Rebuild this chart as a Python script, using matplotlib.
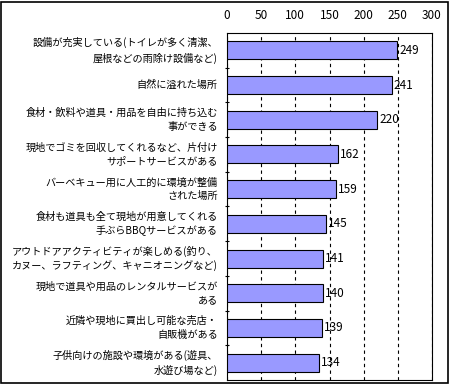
import matplotlib.pyplot as plt
from matplotlib.patches import Rectangle

plt.rcParams['font.family'] = ['Noto Sans CJK JP', 'DejaVu Sans']

labels = [
    "設備が充実している(トイレが多く清潔、\n屋根などの雨除け設備など)",
    "自然に溢れた場所",
    "食材・飲料や道具・用品を自由に持ち込む\n事ができる",
    "現地でゴミを回収してくれるなど、片付け\nサポートサービスがある",
    "バーベキュー用に人工的に環境が整備\nされた場所",
    "食材も道具も全て現地が用意してくれる\n手ぶらBBQサービスがある",
    "アウトドアアクティビティが楽しめる(釣り、\nカヌー、ラフティング、キャニオニングなど)",
    "現地で道具や用品のレンタルサービスが\nある",
    "近隣や現地に買出し可能な売店・\n自販機がある",
    "子供向けの施設や環境がある(遊具、\n水遊び場など)",
]
values = [249, 241, 220, 162, 159, 145, 141, 140, 139, 134]
xticks = [0, 50, 100, 150, 200, 250, 300]

fig = plt.figure(figsize=(4.5, 3.85), dpi=100)
ax = fig.add_axes([227/450, 1 - 380/385, 205/450, 347/385])

y = list(range(len(values)))
ax.barh(y, values, height=0.52, color='#9999FF', edgecolor='black', linewidth=0.8, zorder=3)
for yi, v in zip(y, values):
    ax.text(v + 3, yi, str(v), va='center', ha='left', fontsize=8.5, zorder=4)

ax.set_xlim(0, 300)
ax.set_ylim(len(values) - 0.5, -0.5)
ax.set_xticks(xticks)
ax.xaxis.tick_top()
ax.tick_params(axis='x', length=0, labelsize=8.5, pad=8)
ax.set_yticks([i + 0.5 for i in range(len(values) - 1)])
ax.set_yticklabels([])
ax.tick_params(axis='y', length=3, direction='inout', width=0.8)
for i, lab in enumerate(labels):
    ax.text(-0.045, (len(values) - 0.5 - i) / len(values), lab, transform=ax.transAxes,
            ha='right', va='center', fontsize=7.3, linespacing=1.45, multialignment='right')
ax.grid(axis='x', color='black', linestyle=(0, (3, 3)), linewidth=0.8, zorder=1)
for s in ax.spines.values():
    s.set_linewidth(0.8)

fig.patches.append(Rectangle((0.003, 0.004), 0.993, 0.99, transform=fig.transFigure,
                             fill=False, edgecolor='black', linewidth=1.2))
fig.savefig('out.png', dpi=100)
